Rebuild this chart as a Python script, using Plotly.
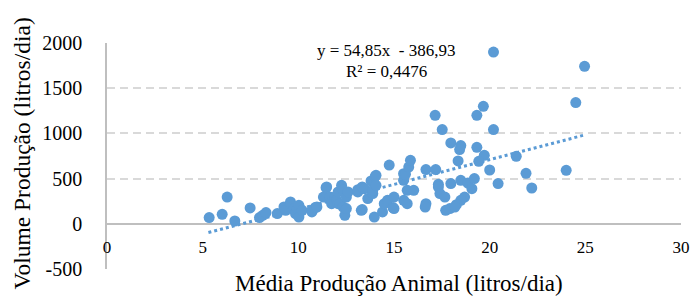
import plotly.graph_objects as go

# Média Produção Animal (litros/dia)
media_animal = [
    5.34, 6.02, 6.28, 6.68, 7.48, 7.97, 8.14, 8.31, 8.90, 9.25, 9.34, 9.59, 9.59, 9.77, 9.85, 9.94,
    10.03, 10.03, 10.20, 10.71, 10.71, 10.88, 10.97, 11.31, 11.45, 11.48, 11.65, 11.74, 11.74, 11.91,
    12.00, 12.08, 12.08, 12.17, 12.26, 12.34, 12.34, 12.43, 12.51, 12.51, 12.60,
    13.11, 13.11, 13.29, 13.34, 13.34, 13.46, 13.63, 13.80, 13.89, 13.89, 13.97, 14.02, 14.06, 14.06,
    14.40, 14.49, 14.75, 14.66, 14.95, 15.00, 15.00,
    15.50, 15.50, 15.60, 15.77, 15.86, 15.51, 15.69, 15.69, 16.03, 16.67, 16.67, 16.63,
    17.15, 17.52, 17.97, 18.49, 18.43, 19.33, 18.35, 19.72, 19.43, 20.00, 17.18, 17.32, 17.32, 17.97,
    18.49, 18.86, 19.20, 19.07, 17.40, 17.66, 18.69, 18.49, 18.26, 17.92, 17.70, 18.18,
    19.67, 19.33, 20.20, 20.20, 20.44,
    21.39, 21.90, 22.20, 24.00, 24.50, 24.96,
]
# Volume Produção (litros/dia)
volume_producao = [
    69, 105, 296, 31, 175, 69, 94, 124, 113, 186, 149, 241, 223, 168, 113, 168,
    75, 205, 149, 131, 149, 179, 186, 296, 400, 407, 296, 241, 223, 296,
    260, 352, 223, 223, 426, 370, 186, 94, 168, 296, 352,
    378, 352, 149, 407, 157, 389, 279, 474, 334, 370, 75, 525, 536, 426,
    131, 223, 650, 260, 179, 168, 296,
    481, 555, 548, 628, 702, 260, 370, 223, 370, 600, 223, 186,
    1200, 1042, 894, 865, 821, 846, 695, 758, 691, 595, 600, 437, 407, 445,
    481, 451, 500, 389, 334, 296, 296, 260, 212, 168, 149, 186,
    1300, 1200, 1900, 1042, 445,
    747, 558, 396, 592, 1341, 1742,
]

# Linear trend (Excel): y = 54,85x - 386,93
trend_slope = 54.85
trend_intercept = -386.93
trend_x = [5.3, 25.0]
trend_y = [trend_slope * v + trend_intercept for v in trend_x]

x_ticks = [0, 5, 10, 15, 20, 25, 30]
y_ticks = [-500, 0, 500, 1000, 1500, 2000]

blue = "#5B9BD5"
font = "Liberation Serif, Times New Roman, serif"

fig = go.Figure()
fig.add_trace(go.Scatter(
    x=trend_x, y=trend_y, mode="lines",
    line=dict(color=blue, width=3, dash="3px,3px"),
    hoverinfo="skip", showlegend=False,
))
fig.add_trace(go.Scatter(
    x=media_animal, y=volume_producao, mode="markers",
    marker=dict(color=blue, size=11, line=dict(width=0)),
    showlegend=False,
))

fig.update_layout(
    width=691, height=288,
    margin=dict(l=99, r=9, t=35, b=27),
    paper_bgcolor="white", plot_bgcolor="white",
    font=dict(family=font, color="black"),
    xaxis=dict(
        range=[0, 30], tickvals=x_ticks, ticktext=[str(v) for v in x_ticks],
        showgrid=False, zeroline=False, showline=False,
        anchor="free", position=0.2,
        ticks="outside", ticklen=8, tickcolor="rgba(0,0,0,0)",
        tickfont=dict(size=17, family=font, color="black"),
    ),
    yaxis=dict(
        range=[-500, 2000], tickvals=y_ticks, ticktext=[str(v) for v in y_ticks],
        showgrid=True, gridcolor="#D9D9D9", griddash="8px,5px", gridwidth=1.5,
        zeroline=True, zerolinecolor="#BFBFBF", zerolinewidth=1.5,
        showline=True, linecolor="#BFBFBF", linewidth=1.5,
        ticks="outside", ticklen=19, tickcolor="rgba(0,0,0,0)",
        tickfont=dict(size=20, family=font, color="black"),
    ),
    annotations=[
        dict(text="Média Produção Animal (litros/dia)", xref="paper", yref="paper",
             x=0.508, y=-0.063, xanchor="center", yanchor="middle", showarrow=False,
             font=dict(size=23, family=font, color="black")),
        dict(text="Volume Produção (litros/dia)", xref="paper", yref="paper",
             x=-0.1476, y=0.512, xanchor="center", yanchor="middle", showarrow=False,
             textangle=-90, font=dict(size=23.5, family=font, color="black")),
        dict(text="y = 54,85x  - 386,93", xref="x", yref="y",
             x=14.6, y=1915, xanchor="center", yanchor="middle", showarrow=False,
             font=dict(size=17, family=font, color="black")),
        dict(text="R² = 0,4476", xref="x", yref="y",
             x=14.6, y=1685, xanchor="center", yanchor="middle", showarrow=False,
             font=dict(size=17, family=font, color="black")),
    ],
)

fig.write_html("out.html")
